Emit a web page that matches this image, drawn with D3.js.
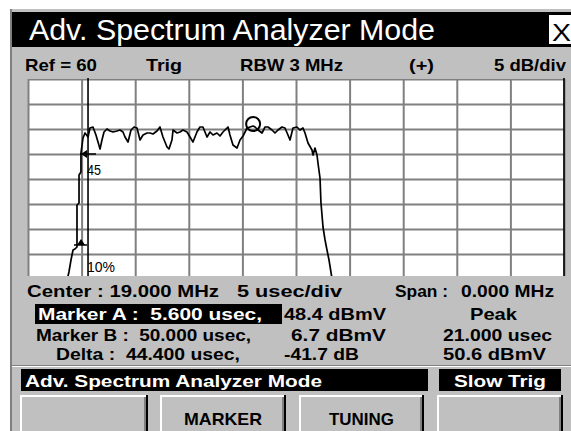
<!DOCTYPE html>
<html><head><meta charset="utf-8">
<script src="https://cdn.jsdelivr.net/npm/d3@7"></script>
<style>html,body{margin:0;padding:0;background:#fff;overflow:hidden}</style>
</head><body>
<svg id="c" width="571" height="431"></svg>
<script>
// ---------- data (time in usec, level in dBmV) ----------
const traceTime = [
  3.54, 3.82, 4.01, 4.20, 4.38, 4.57, 4.57, 4.76, 4.76, 4.94,
  4.94, 5.13, 5.32, 5.60, 5.78, 6.06, 6.34, 6.53, 6.72, 6.90,
  7.09, 7.37, 7.65, 7.93, 8.30, 8.58, 8.86, 9.05, 9.33, 9.61,
  9.89, 10.17, 10.45, 10.73, 11.10, 11.38, 11.66, 12.03, 12.31, 12.59,
  12.97, 13.15, 13.43, 13.53, 13.90, 14.18, 14.46, 14.83, 15.11, 15.39,
  15.76, 16.04, 16.32, 16.70, 16.98, 17.26, 17.63, 17.91, 18.19, 18.66,
  18.84, 19.12, 19.50, 19.78, 20.06, 20.43, 20.71, 21.00, 21.18, 21.46,
  21.83, 22.11, 22.39, 22.76, 23.04, 23.32, 23.69, 23.97, 24.25, 24.44,
  24.72, 25.09, 25.37, 25.65, 25.84, 26.12, 26.49, 26.59, 26.77, 26.96,
  27.05, 27.24, 27.33, 27.52, 27.71, 27.89, 28.08, 28.26, 28.45
];
const traceLevel = [
  18.8, 21.4, 23.8, 25.8, 26.0, 26.4, 34.8, 35.2, 40.8, 41.4,
  45.2, 48.2, 49.2, 48.4, 50.2, 50.4, 48.8, 47.4, 46.0, 47.8,
  49.4, 50.0, 49.6, 49.4, 49.6, 49.8, 49.4, 48.4, 47.4, 49.8,
  50.4, 50.2, 47.8, 48.8, 49.2, 49.2, 49.0, 49.6, 50.4, 48.4,
  46.4, 46.0, 47.8, 49.8, 49.2, 49.4, 49.8, 49.4, 48.4, 47.4,
  49.4, 50.4, 50.4, 48.4, 49.4, 48.8, 49.2, 48.6, 49.4, 50.4,
  48.8, 46.8, 46.2, 47.8, 48.6, 50.2, 50.4, 50.6, 50.4, 49.8,
  49.2, 50.4, 50.4, 49.8, 49.2, 49.8, 50.4, 50.2, 48.8, 47.8,
  50.2, 50.4, 49.8, 50.2, 49.2, 47.2, 45.8, 44.8, 46.2, 44.8,
  43.2, 40.2, 35.2, 30.4, 27.8, 25.8, 23.8, 21.4, 18.8
];
const timeTicks = [0, 5, 10, 15, 20, 25, 30, 35, 40, 45, 50];
const levelTicks = [60, 55, 50, 45, 40, 35, 30, 25, 20];
const markerA = { time: 5.6, level: 48.4 };
const markerB = { time: 50.0, level: 6.7 };
const peak = { time: 21.0, level: 50.6 };
const riseMarkLevels = [45, 26.8];          // "45" and "10%" reference marks
const riseMarkLabels = ["45", "10%"];
const headerLabels = ["Ref = 60", "Trig", "RBW 3 MHz", "(+)", "5 dB/div"];
const scaleLabels = ["Center : 19.000 MHz", "5 usec/div", "Span :", "0.000 MHz"];
const titleText = "Adv. Spectrum Analyzer Mode";
const statusLabels = ["Adv. Spectrum Analyzer Mode", "Slow Trig"];
const buttonLabels = ["", "MARKER", "TUNING", ""];

// ---------- drawing ----------
const W = 571, H = 431;
const FONT = "'Liberation Sans', Arial, sans-serif";
const svg = d3.select('#c');

svg.append('rect').attr('width', W).attr('height', H).attr('fill', '#fff');
svg.append('rect').attr('x', 10).attr('y', 9).attr('width', W - 10).attr('height', H - 9).attr('fill', '#c0c0c0');
svg.append('rect').attr('x', 10).attr('y', 9).attr('width', 2).attr('height', H - 9).attr('fill', '#808080');
svg.append('rect').attr('x', 12).attr('y', 12).attr('width', W - 12).attr('height', 35).attr('fill', '#000');
svg.append('rect').attr('x', 549).attr('y', 15).attr('width', 22).attr('height', 29).attr('fill', '#fff');

function txt(s, x, yb, size, bold, w, fill, anchor) {
  const t = svg.append('text').attr('x', x).attr('y', yb).text(s)
    .attr('font-family', FONT).attr('font-size', size)
    .attr('font-weight', bold ? 'bold' : 'normal')
    .attr('fill', fill || '#000').style('white-space', 'pre');
  if (anchor) t.attr('text-anchor', anchor);
  if (w) t.attr('textLength', w).attr('lengthAdjust', 'spacingAndGlyphs');
  return t;
}

txt(titleText, 29, 40, 29, false, 406, '#fff');
txt('X', 552, 41, 24, false, 19, '#000');

const hx = [25, 146, 240, 409, 494], hw = [72, 36, 103, 25, 72];
headerLabels.forEach((s, i) => txt(s, hx[i], 71, 17, true, hw[i]));

// plot
const x = d3.scaleLinear().domain([0, 50]).range([28, 564]);
const y = d3.scaleLinear().domain([60, 20]).range([79, 279]);
const plotTop = 78, plotBottom = 276;

svg.append('clipPath').attr('id', 'clip').append('rect')
  .attr('x', 27).attr('y', plotTop).attr('width', 540).attr('height', plotBottom - plotTop);
const plot = svg.append('g').attr('clip-path', 'url(#clip)');
plot.append('rect').attr('x', 28).attr('y', plotTop).attr('width', 536).attr('height', plotBottom - plotTop).attr('fill', '#fff');

plot.append('g').attr('transform', `translate(0,${y(20)})`)
  .call(d3.axisBottom(x).tickValues(timeTicks).tickSize(-(y(20) - y(60))).tickFormat(''))
  .call(g => { g.select('.domain').remove(); g.selectAll('line').attr('stroke', '#808080').attr('stroke-width', 2); });
plot.append('g').attr('transform', `translate(${x(0)},0)`)
  .call(d3.axisLeft(y).tickValues(levelTicks).tickSize(-(x(50) - x(0))).tickFormat(''))
  .call(g => { g.select('.domain').remove(); g.selectAll('line').attr('stroke', '#808080').attr('stroke-width', 2); });

// marker lines
[markerA, markerB].forEach(m => {
  plot.append('line').attr('x1', x(m.time)).attr('x2', x(m.time))
    .attr('y1', plotTop).attr('y2', plotBottom).attr('stroke', '#000').attr('stroke-width', 1.6);
});

// trace
const pts = traceTime.map((t, i) => [t, traceLevel[i]]);
plot.append('path').datum(pts)
  .attr('d', d3.line().x(d => x(d[0])).y(d => y(d[1])))
  .attr('fill', 'none').attr('stroke', '#000').attr('stroke-width', 1.7).attr('stroke-linejoin', 'round');

// peak circle
plot.append('circle').attr('cx', x(peak.time)).attr('cy', y(peak.level) - 2).attr('r', 7)
  .attr('fill', 'none').attr('stroke', '#000').attr('stroke-width', 2);

// rise-time marks
const m45 = y(riseMarkLevels[0]);
plot.append('line').attr('x1', 80).attr('x2', 96).attr('y1', m45).attr('y2', m45).attr('stroke', '#000').attr('stroke-width', 1.5);
plot.append('path').attr('d', `M${81},${m45} l6,-4 l0,8 z`).attr('fill', '#000');
plot.append('text').attr('x', 87).attr('y', 175).text(riseMarkLabels[0])
  .attr('font-family', FONT).attr('font-size', 14).attr('textLength', 14).attr('lengthAdjust', 'spacingAndGlyphs');
const m10 = y(riseMarkLevels[1]);
plot.append('line').attr('x1', 74).attr('x2', 87).attr('y1', m10).attr('y2', m10).attr('stroke', '#000').attr('stroke-width', 1.5);
plot.append('path').attr('d', `M${81},${m10 - 6} l-4,6 l8,0 z`).attr('fill', '#000');
plot.append('text').attr('x', 87).attr('y', 272).text(riseMarkLabels[1])
  .attr('font-family', FONT).attr('font-size', 14).attr('textLength', 28).attr('lengthAdjust', 'spacingAndGlyphs');

// scale readouts
const sx = [27, 237, 395, 461], sw = [192, 105, 53, 93];
scaleLabels.forEach((s, i) => txt(s, sx[i], 297, 17, true, sw[i]));

// marker readouts
svg.append('rect').attr('x', 35).attr('y', 304).attr('width', 247).attr('height', 20).attr('fill', '#000');
const rows = [
  [`Marker A :  ${markerA.time.toFixed(3)} usec,`, `${markerA.level.toFixed(1)} dBmV`, 'Peak'],
  [`Marker B :  ${markerB.time.toFixed(3)} usec,`, `${markerB.level.toFixed(1)} dBmV`, `${peak.time.toFixed(3)} usec`],
  [`Delta :  ${(markerB.time - markerA.time).toFixed(3)} usec,`, `${(markerB.level - markerA.level).toFixed(1)} dB`, `${peak.level.toFixed(1)} dBmV`]
];
const rowY = [320, 341, 360];
const colX = [[38, 284, 470], [36, 291, 443], [56, 284, 443]];
const colW = [[224, 102, 47], [215, 95, 109], [184, 75, 103]];
rows.forEach((r, i) => r.forEach((s, j) =>
  txt(s, colX[i][j], rowY[i], 17, true, colW[i][j], (i === 0 && j === 0) ? '#fff' : '#000')));

// separator
svg.append('rect').attr('x', 12).attr('y', 365).attr('width', W - 12).attr('height', 1).attr('fill', '#808080');
svg.append('rect').attr('x', 12).attr('y', 366).attr('width', W - 12).attr('height', 1).attr('fill', '#fff');

// status bar
svg.append('rect').attr('x', 21).attr('y', 369).attr('width', 407).attr('height', 22).attr('fill', '#000');
svg.append('rect').attr('x', 439).attr('y', 369).attr('width', 122).attr('height', 22).attr('fill', '#000');
txt(statusLabels[0], 25, 387, 17, true, 297, '#fff');
txt(statusLabels[1], 454, 387, 17, true, 92, '#fff');

// buttons
const bx = [[20, 148], [160, 286], [299, 424], [437, 563]];
buttonLabels.forEach((s, i) => {
  const [x0, x1] = bx[i];
  svg.append('rect').attr('x', x0).attr('y', 395).attr('width', x1 - x0).attr('height', 40).attr('fill', '#c0c0c0');
  svg.append('rect').attr('x', x0).attr('y', 395).attr('width', x1 - x0).attr('height', 2).attr('fill', '#fff');
  svg.append('rect').attr('x', x0).attr('y', 395).attr('width', 2).attr('height', 40).attr('fill', '#fff');
  svg.append('rect').attr('x', x1 - 2).attr('y', 395).attr('width', 2).attr('height', 40).attr('fill', '#000');
  svg.append('rect').attr('x', x1 - 4).attr('y', 397).attr('width', 2).attr('height', 40).attr('fill', '#808080');
  if (s) txt(s, (x0 + x1) / 2, 425, 17, true, s === 'MARKER' ? 78 : 65, '#000', 'middle');
});
</script>
</body></html>
